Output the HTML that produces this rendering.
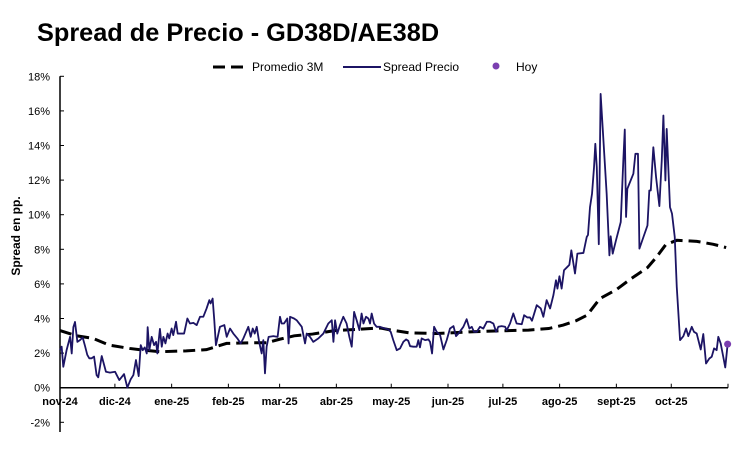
<!DOCTYPE html>
<html><head><meta charset="utf-8"><style>
body{margin:0;background:#fff;}
svg{display:block;font-family:"Liberation Sans",Arial,sans-serif;}
</style></head><body>
<svg id="chart" width="748" height="450" viewBox="0 0 748 450">
<text x="37" y="41" font-size="25.3" font-weight="bold" fill="#000">Spread de Precio - GD38D/AE38D</text>
<text transform="translate(20,236) rotate(-90)" text-anchor="middle" font-size="12" font-weight="bold">Spread en pp.</text>
<g>
<g><line x1="213" y1="67" x2="246" y2="67" stroke="#000" stroke-width="3" stroke-dasharray="12,6"/><text x="252" y="71" font-size="12">Promedio 3M</text></g>
<g><line x1="343" y1="67" x2="381" y2="67" stroke="#1c1464" stroke-width="2"/><text x="383" y="71" font-size="12">Spread Precio</text></g>
<g><circle cx="496" cy="66" r="3.5" fill="#7b3fb0"/><text x="516" y="71" font-size="12">Hoy</text></g>
</g>
<g id="axes"></g>
<g id="marks"></g>
</svg>
<script>
const yTicks=[-2,0,2,4,6,8,10,12,14,16,18];
const monthLabels=["nov-24","dic-24","ene-25","feb-25","mar-25","abr-25","may-25","jun-25","jul-25","ago-25","sept-25","oct-25"];
const monthStartDays=[0,30,61,92,120,151,181,212,242,273,304,334];
const spreadDays=[0,0.9,1.8,3.6,5.5,6.4,7.3,8.2,9.5,10.9,12.4,13.7,14.9,16.0,17.3,18.6,20.0,20.9,22.8,25.1,27.3,30.1,32.4,35.0,36.8,38.6,40.1,41.5,43.0,44.1,45.2,46.3,47.4,47.9,48.8,50.1,51.4,52.5,53.2,54.6,55.6,56.5,57.6,58.8,59.7,61.0,61.9,63.4,64.3,66.1,67.8,69.6,71.0,72.9,74.7,76.5,78.3,80.1,81.6,82.3,83.4,84.3,85.2,87.4,89.8,91.1,92.9,94.7,96.9,98.7,100.2,102.9,104.2,105.3,106.4,107.5,108.9,110.2,111.1,112.0,112.9,114.0,116.6,118.9,120.2,121.1,122.4,124.2,124.9,125.7,127.9,129.3,132.1,133.9,134.8,136.6,138.4,141.2,143.9,146.6,148.5,149.4,150.3,151.5,153.0,154.8,156.6,158.1,159.4,160.7,162.1,163.6,164.8,165.8,167.2,168.5,169.4,170.3,171.6,173.0,174.9,175.8,177.6,179.4,180.7,182.1,184.0,185.8,187.6,189.1,190.3,191.3,193.1,194.9,195.8,196.7,197.6,199.5,201.3,202.2,203.3,204.4,205.8,207.7,209.5,211.3,213.1,215.0,216.4,217.7,220.4,222.2,223.7,225.0,226.2,227.7,229.5,231.3,233.2,235.0,236.8,238.3,239.5,241.3,243.2,244.1,245.9,247.7,249.5,252.3,253.6,255.4,256.8,257.9,259.0,260.5,262.7,264.1,265.9,267.8,269.6,271.0,271.8,272.9,274.1,275.4,277.2,278.3,279.4,281.4,282.7,286.0,287.8,288.5,289.6,290.7,291.8,292.5,293.3,294.4,295.4,296.5,298.7,300.2,300.9,302.0,303.8,306.4,307.8,308.6,309.3,310.0,313.3,314.4,315.8,316.6,318.8,321.0,322.0,322.8,324.2,325.7,327.5,328.8,329.7,330.8,331.5,333.3,334.4,335.9,337.0,338.8,340.6,342.1,343.3,345.2,346.4,347.9,350.1,351.5,353.0,354.8,356.1,357.4,358.8,359.7,361.0,362.4,363.5,364.8];
const spreadValues=[2.17,2.37,1.21,2.17,2.94,1.98,3.5,3.8,2.65,2.75,2.9,2.4,1.9,1.7,1.7,1.8,0.73,0.6,1.83,0.92,0.87,0.92,0.44,0.79,0.0,0.48,0.73,1.6,0.67,2.46,2.17,2.33,1.98,3.5,2.17,2.94,2.46,2.65,1.98,3.4,2.37,2.94,2.56,3.13,2.85,3.42,3.04,3.81,3.13,3.13,3.13,4.0,3.71,3.75,3.62,4.1,4.1,4.58,5.06,4.87,5.15,3.9,2.46,3.52,3.62,2.94,3.42,3.13,2.85,2.56,2.85,3.52,2.94,3.42,3.13,3.52,2.6,1.98,2.75,0.83,2.37,2.94,2.98,2.94,4.1,3.71,3.71,4.0,2.56,4.1,4.0,3.9,3.52,2.56,3.13,2.94,2.65,2.85,3.13,3.71,3.9,2.65,3.9,3.13,3.62,4.1,3.71,2.94,2.37,4.38,3.9,3.33,4.29,3.71,4.1,4.0,3.71,4.29,3.71,3.52,3.52,3.48,3.42,3.37,3.23,2.75,2.17,2.27,2.65,2.79,2.71,2.4,2.37,2.37,2.75,2.33,2.85,2.75,2.79,2.65,1.98,3.52,3.23,3.04,2.21,2.75,3.42,3.56,2.98,3.13,3.52,3.96,3.42,3.52,3.23,3.23,3.52,3.42,3.81,3.81,3.71,3.23,3.52,3.56,3.52,3.33,3.71,4.29,3.71,3.67,4.19,4.06,4.06,3.87,4.25,4.77,4.58,4.1,5.06,4.58,5.35,6.21,5.73,6.44,5.73,6.79,6.98,7.1,7.94,6.6,7.75,7.79,8.71,8.83,10.44,11.21,12.75,14.1,12.75,8.29,16.98,15.06,11.21,7.65,8.75,7.75,8.52,9.58,13.13,14.92,9.87,11.5,12.37,13.52,13.52,8.04,8.71,9.38,11.4,11.4,13.9,12.17,10.5,13.13,15.73,11.98,14.96,10.44,10.06,8.71,5.83,2.75,2.98,3.42,2.98,3.52,3.23,3.13,2.21,3.1,1.4,1.69,1.79,2.27,2.17,2.94,2.56,1.79,1.17,2.52];
const avgDays=[0,9,18,27,38,45.5,55,69,80,91,106,113,120,128,138,150,175,181,191,206,224,242,256,267,275,282,288,295,304,312,321,326,331,337,348,357,364];
const avgValues=[3.3,3.0,2.85,2.46,2.27,2.17,2.08,2.13,2.2,2.56,2.6,2.6,2.8,3.0,3.1,3.3,3.45,3.33,3.17,3.13,3.23,3.29,3.33,3.42,3.62,3.87,4.19,5.15,5.67,6.3,6.94,7.56,8.27,8.52,8.46,8.29,8.1];
const hoyDay=364.8, hoyValue=2.52;

const NS="http://www.w3.org/2000/svg";
const X0=60,X1=728,Y0=387.7,PPV=17.3;
const xs=d=>X0+d*(X1-X0)/365;
const ys=v=>Y0-v*PPV;
const axes=document.getElementById('axes'),marks=document.getElementById('marks');
function mk(tag,attrs,parent){const e=document.createElementNS(NS,tag);for(const k in attrs)e.setAttribute(k,attrs[k]);parent.appendChild(e);return e;}

const ya=mk('line',{x1:X0,y1:ys(18),x2:X0,y2:432,stroke:'#000','stroke-width':1.5},axes);


const xa=mk('line',{x1:X0,y1:Y0,x2:X1,y2:Y0,stroke:'#000','stroke-width':1.5},axes);


yTicks.forEach(v=>{
  mk('line',{x1:X0,y1:ys(v),x2:X0+4,y2:ys(v),stroke:'#000'},axes);
  const t=mk('text',{x:50,y:ys(v)+4,'text-anchor':'end','font-size':11},axes);
  t.textContent=v+'%';
  
  
});
monthStartDays.forEach((d,i)=>{
  mk('line',{x1:xs(d),y1:Y0,x2:xs(d),y2:Y0-4,stroke:'#000'},axes);
  const t=mk('text',{x:xs(d),y:405,'text-anchor':'middle','font-size':11,'font-weight':'bold'},axes);
  t.textContent=monthLabels[i];
  
  
});
mk('line',{x1:X1,y1:Y0,x2:X1,y2:Y0-4,stroke:'#000'},axes);

const ap=mk('polyline',{points:avgDays.map((d,i)=>xs(d)+','+ys(avgValues[i])).join(' '),fill:'none',stroke:'#000','stroke-width':3,'stroke-dasharray':'12,6'},marks);


const sp=mk('polyline',{points:spreadDays.map((d,i)=>xs(d)+','+ys(spreadValues[i])).join(' '),fill:'none',stroke:'#1c1464','stroke-width':1.8,'stroke-linejoin':'round'},marks);


const h=mk('circle',{cx:xs(hoyDay),cy:ys(hoyValue),r:3.5,fill:'#7b3fb0'},marks);


</script>
</body></html>
